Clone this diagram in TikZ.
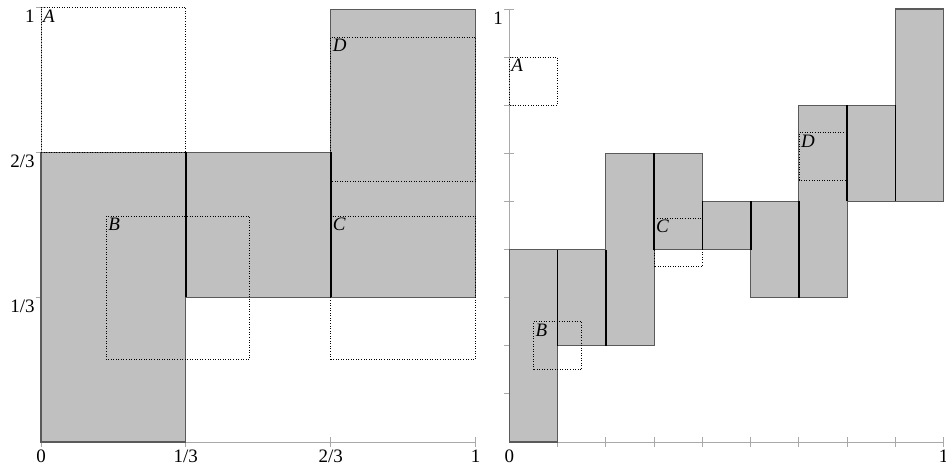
\documentclass[tikz,border=0pt]{standalone}
\usepackage{fontspec}
\setmainfont{Liberation Serif}
\usepackage{tikz}
\definecolor{relleno}{HTML}{C0C0C0}
\definecolor{ejegris}{HTML}{A8A8A8}
\definecolor{borde}{HTML}{5A5A5A}
\tikzset{
  every picture/.style={font=\fontsize{10.8}{12}\selectfont},
  barra/.style={fill=relleno, draw=borde, line width=0.65pt},
  separa/.style={draw=black, line width=1pt},
  caja/.style={draw=black, densely dotted, line width=0.45pt},
  eje/.style={draw=ejegris, line width=0.5pt},
  rotulo/.style={inner sep=1pt, anchor=north west, font=\fontsize{10.8}{12}\selectfont\itshape},
  numx/.style={anchor=north, inner sep=0pt, yshift=-0.16cm},
  numy/.style={anchor=north east, inner sep=0pt, xshift=-0.12cm, yshift=-0.05cm},
}

\begin{document}
\begin{tikzpicture}
  \useasboundingbox (0,0) rectangle (18.92,9.42);
  % panel izquierdo: tercios
  \begin{scope}[shift={(0.82,0.58)}, x=8.69cm, y=8.69cm]
    \draw[eje] (0,0) -- (1,0);
    \draw[eje] (0,0) -- (0,1);
    \foreach \t in {0,1/3,2/3,1}
      \draw[eje] (\t,0) ++(0pt,-2.8pt) -- ++(0pt,5.6pt);
    \foreach \t in {1/3,2/3,1}
      \draw[eje] (0,\t) ++(-2.8pt,0pt) -- ++(5.6pt,0pt);
    \node[numx] (lx0) at (0,0) {0};
    \foreach \k in {1,2}
      \node[numx] (lx\k) at (\k/3,0) {\k/3};
    \node[numx] (lx3) at (1,0) {1};
    \foreach \k in {1,2}
      \node[numy] (ly\k) at (0,\k/3) {\k/3};
    \node[numy] (ly3) at (0,1) {1};
    % barras
    \filldraw[barra] (0,0) rectangle (1/3,2/3);
    \filldraw[barra] (1/3,1/3) rectangle (2/3,2/3);
    \filldraw[barra] (2/3,1/3) rectangle (1,0.995);
    \draw[separa] (1/3,1/3) -- (1/3,2/3);
    \draw[separa] (2/3,1/3) -- (2/3,2/3);
    % cajas
    \draw[caja] (0,2/3) rectangle (1/3,1);
    \draw[caja] (0.15,0.19) rectangle (0.48,0.52);
    \draw[caja] (2/3,0.19) rectangle (1,0.52);
    \draw[caja] (2/3,0.60) rectangle (1,0.932);
    \node[rotulo] (ia) at (0,1) {A};
    \node[rotulo] (ib) at (0.15,0.52) {B};
    \node[rotulo] (ic) at (2/3,0.52) {C};
    \node[rotulo] (id) at (2/3,0.932) {D};
  \end{scope}
  % panel derecho: novenos
  \begin{scope}[shift={(10.186,0.58)}, x=8.688cm, y=8.66cm]
    \draw[eje] (0,0) -- (1,0);
    \draw[eje] (0,0) -- (0,1);
    \foreach \k in {1,...,9} {
      \draw[eje] (\k/9,0) ++(0pt,-2.8pt) -- ++(0pt,5.6pt);
      \draw[eje] (0,\k/9) ++(-2.8pt,0pt) -- ++(5.6pt,0pt);
    }
    \node[numx] (rx0) at (0,0) {0};
    \node[numx] (rx9) at (1,0) {1};
    \node[numy] (ry9) at (0,1) {1};
    % barras
    \foreach \c/\a/\b in {0/0/4,1/2/4,2/2/6,3/4/6,4/4/5,5/3/5,6/3/7,7/5/7,8/5/9}
      \filldraw[barra] (\c/9,\a/9) rectangle ({(\c+1)/9},\b/9);
    \foreach \c/\a/\b in {1/2/4,2/2/4,3/4/6,4/4/5,5/4/5,6/3/5,7/5/7,8/5/7}
      \draw[separa] (\c/9,\a/9) -- (\c/9,\b/9);
    % cajas
    \draw[caja] (0,7/9) rectangle (1/9,8/9);
    \draw[caja] (0.5/9,1.5/9) rectangle (1.5/9,2.5/9);
    \draw[caja] (3/9,3.65/9) rectangle (4/9,4.65/9);
    \draw[caja] (6/9,5.44/9) rectangle (7/9,6.43/9);
    \node[rotulo] (ja) at (0,8/9) {A};
    \node[rotulo] (jb) at (0.5/9,2.5/9) {B};
    \node[rotulo] (jc) at (3/9,4.65/9) {C};
    \node[rotulo] (jd) at (6/9,6.43/9) {D};
  \end{scope}
\end{tikzpicture}
\end{document}
